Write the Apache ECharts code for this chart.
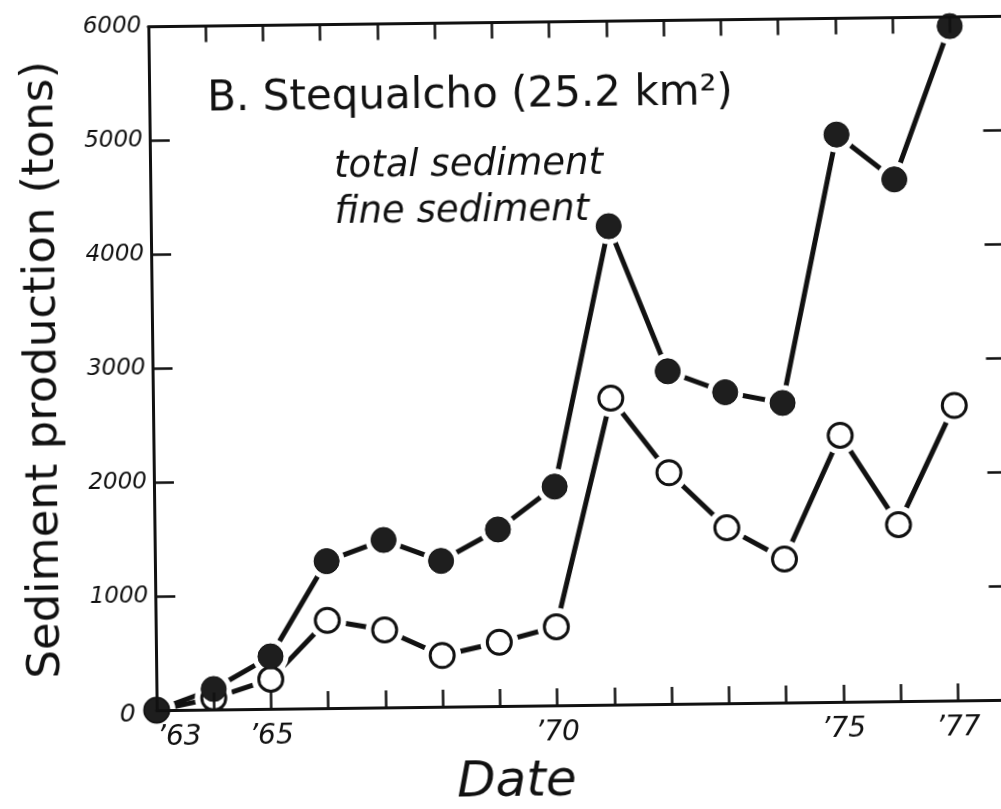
<!DOCTYPE html>
<html>
<head>
<meta charset="utf-8">
<title>Stequalcho sediment production</title>
<script src="https://cdn.jsdelivr.net/npm/echarts@6/dist/echarts.min.js"></script>
<style>
  html, body { margin: 0; padding: 0; background: #fff; overflow: hidden; width: 1001px; height: 809px; }
  /* the hand-drawn plate sits slightly askew on the page */
  #chart { position: absolute; left: 0; top: 0; width: 1030px; height: 809px;
           transform: rotate(-0.7deg); transform-origin: 500px 405px; }
</style>
</head>
<body>
<div id="chart"></div>
<script>
// Sediment production, Stequalcho basin, annual totals (tons)
const years = [1963, 1964, 1965, 1966, 1967, 1968, 1969, 1970, 1971, 1972, 1973, 1974, 1975, 1976, 1977];
const totalSediment = [0, 180, 460, 1290, 1470, 1280, 1550, 1920, 4200, 2920, 2730, 2630, 4980, 4580, 5920];
const fineSediment  = [0, 100, 260, 770, 680, 450, 560, 690, 2690, 2030, 1540, 1260, 2340, 1550, 2590];

// Only these years carry a printed label on the date axis
const yearLabels = { 1963: '\u201963', 1965: '\u201965', 1970: '\u201970', 1975: '\u201975', 1977: '\u201977' };
const xMin = 1963, xMax = 1978, xStep = 1;
const yMin = 0, yMax = 6000, yStep = 1000;

const seriesNames = ['total sediment', 'fine sediment'];
const titleText = 'B. Stequalcho (25.2 km\u00b2)';
const xName = 'Date';
const yName = 'Sediment production (tons)';

const hand = '"DejaVu Sans", Lato, sans-serif';
const ink = '#111';

const pairs = vals => years.map((y, i) => [y, vals[i]]);

const chart = echarts.init(document.getElementById('chart'), null, { renderer: 'canvas' });

chart.setOption({
  animation: false,
  backgroundColor: '#fff',
  title: {
    text: titleText,
    left: 206, top: 70,
    textStyle: { fontFamily: hand, fontSize: 42, fontWeight: 'normal', color: ink }
  },
  legend: {
    data: seriesNames,
    orient: 'vertical',
    left: 327, top: 137,
    icon: 'rect', itemWidth: 0, itemHeight: 0, itemGap: 0,
    selectedMode: false,
    textStyle: { fontFamily: hand, fontSize: 37, fontStyle: 'italic', color: ink, lineHeight: 46 }
  },
  grid: { left: 153, right: 18.5, top: 22.5, bottom: 103, outerBoundsMode: 'none', containLabel: false },
  xAxis: [
    {
      type: 'value', position: 'bottom', min: xMin, max: xMax, interval: xStep, z: 6,
      name: xName, nameLocation: 'middle', nameGap: 52,
      nameTextStyle: { fontFamily: hand, fontSize: 50, fontStyle: 'italic', color: ink, padding: [0, 140, 0, 0] },
      axisLine: { show: true, onZero: false, lineStyle: { color: ink, width: 3 } },
      axisTick: { show: true, inside: true, length: 17, lineStyle: { color: ink, width: 2.5 } },
      axisLabel: {
        show: true, margin: 14, showMinLabel: true, alignMinLabel: 'left',
        fontFamily: hand, fontSize: 28, fontStyle: 'italic', color: ink,
        formatter: v => yearLabels[v] || ''
      },
      splitLine: { show: false }
    },
    {
      type: 'value', position: 'top', min: xMin, max: xMax, interval: xStep, z: 6,
      axisLine: { show: true, onZero: false, lineStyle: { color: ink, width: 3 } },
      axisTick: { show: true, inside: true, length: 16, lineStyle: { color: ink, width: 2.5 } },
      axisLabel: { show: false },
      splitLine: { show: false }
    }
  ],
  yAxis: [
    {
      type: 'value', position: 'left', min: yMin, max: yMax, interval: yStep, z: 6,
      name: yName, nameLocation: 'middle', nameGap: 86, nameRotate: 90,
      nameTextStyle: { fontFamily: hand, fontSize: 45, color: ink },
      axisLine: { show: true, onZero: false, lineStyle: { color: ink, width: 3 } },
      axisTick: { show: true, inside: true, length: 20, lineStyle: { color: ink, width: 2.5 } },
      axisLabel: {
        show: true, margin: 7,
        fontFamily: hand, fontSize: 23, fontStyle: 'italic', color: ink,
        formatter: v => (v === 0 ? '{zero|0}' : String(v)),
        rich: { zero: { fontFamily: hand, fontSize: 25, fontStyle: 'italic', color: ink, padding: [8, 14, 0, 0] } }
      },
      splitLine: { show: false }
    },
    {
      type: 'value', position: 'right', min: yMin, max: yMax, interval: yStep, z: 6,
      axisLine: { show: true, onZero: false, lineStyle: { color: ink, width: 3 } },
      axisTick: { show: true, inside: true, length: 25, lineStyle: { color: ink, width: 2.5 } },
      axisLabel: { show: false },
      splitLine: { show: false }
    }
  ],
  series: [
    // connecting strokes
    { name: seriesNames[0], type: 'line', data: pairs(totalSediment), z: 1,
      symbol: 'none', showSymbol: false, itemStyle: { color: ink },
      lineStyle: { color: ink, width: 5 } },
    { name: seriesNames[1], type: 'line', data: pairs(fineSediment), z: 1,
      symbol: 'none', showSymbol: false, itemStyle: { color: ink },
      lineStyle: { color: ink, width: 5 } },
    // white halos leave the small gap between each stroke and its circle
    { name: 'halo-total', type: 'scatter', data: pairs(totalSediment), z: 2, silent: true,
      symbol: 'circle', symbolSize: 36, itemStyle: { color: '#fff', opacity: 1 } },
    { name: 'halo-fine', type: 'scatter', data: pairs(fineSediment), z: 2, silent: true,
      symbol: 'circle', symbolSize: 38, itemStyle: { color: '#fff', opacity: 1 } },
    // open circles: fine sediment
    { name: seriesNames[1], type: 'scatter', data: pairs(fineSediment), z: 3,
      symbol: 'circle', symbolSize: 24,
      itemStyle: { color: '#fff', borderColor: ink, borderWidth: 3, opacity: 1 } },
    // solid circles: total sediment
    { name: seriesNames[0], type: 'scatter', data: pairs(totalSediment), z: 4,
      symbol: 'circle', symbolSize: 25,
      itemStyle: { color: '#1e1e1e', borderColor: '#111', borderWidth: 1, opacity: 1 } }
  ]
});
</script>
</body>
</html>
